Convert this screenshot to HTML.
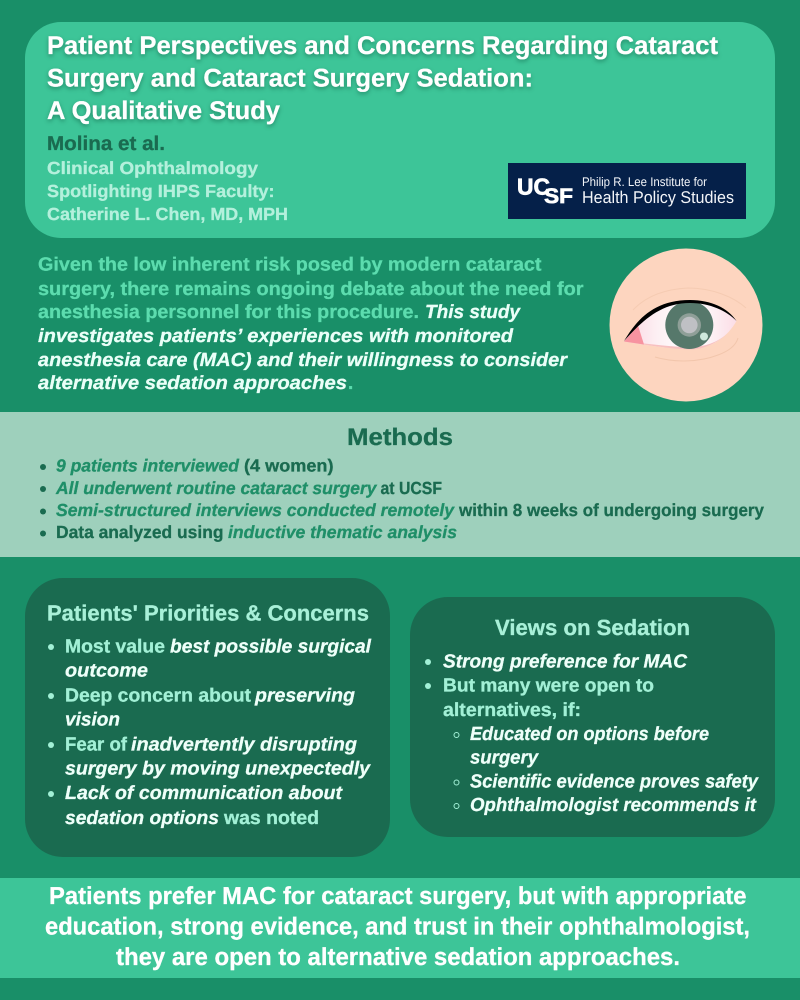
<!DOCTYPE html>
<html><head><meta charset="utf-8">
<style>
html,body{margin:0;padding:0;background:#198f68;width:800px;height:1000px;overflow:hidden}
svg{display:block}
text{font-family:"Liberation Sans",sans-serif;font-weight:700;stroke-width:.3px;stroke:currentColor}
.i{font-style:italic}
.t{font-size:25.5px;fill:#fff;color:#fff;filter:drop-shadow(0 2px 2px rgba(0,60,40,.4))}
.s{font-size:17.5px;fill:#b4f0dc;color:#b4f0dc}
.b{font-size:19px}
.g{fill:#5cdcae;color:#5cdcae}
.w{fill:#eafff8;color:#eafff8}
.m{font-size:17.5px}
.d{fill:#1a6b50;color:#1a6b50}
.e{fill:#1f8f68;color:#1f8f68}
.p{font-size:19px;fill:#a2f0d6;color:#a2f0d6}
.q{font-size:19px;fill:#eefff9;color:#eefff9}
.h{font-size:22px;fill:#a8f0d8;color:#a8f0d8}
.f{font-size:24.5px;fill:#fff;color:#fff}
.l{stroke:none;font-weight:400;fill:#f2f4f8}
.u{fill:#fff;color:#fff;stroke-width:.7px}
</style></head><body>
<svg xmlns="http://www.w3.org/2000/svg" width="800" height="1000" viewBox="0 0 800 1000" text-rendering="geometricPrecision">
<defs>
<linearGradient id="sc" x1="0" y1="0" x2="1" y2="0">
<stop offset="0" stop-color="#fbd6e0"/><stop offset=".3" stop-color="#fdf0f4"/><stop offset=".62" stop-color="#ffffff"/><stop offset="1" stop-color="#fbdde6"/>
</linearGradient>
</defs>
<rect width="800" height="1000" fill="#198f68"/>
<rect x="25" y="22" width="750" height="216" rx="36" fill="#3dc598"/>
<text class="t" x="47" y="54" textLength="671" lengthAdjust="spacingAndGlyphs">Patient Perspectives and Concerns Regarding Cataract</text>
<text class="t" x="47" y="86.500" textLength="486" lengthAdjust="spacingAndGlyphs">Surgery and Cataract Surgery Sedation:</text>
<text class="t" x="47" y="119" textLength="233" lengthAdjust="spacingAndGlyphs">A Qualitative Study</text>
<text class="d" x="47" y="150" font-size="20" textLength="118" lengthAdjust="spacingAndGlyphs">Molina et al.</text>
<text class="s" x="47" y="174" textLength="211" lengthAdjust="spacingAndGlyphs">Clinical Ophthalmology</text>
<text class="s" x="47" y="197" textLength="227.500" lengthAdjust="spacingAndGlyphs">Spotlighting IHPS Faculty:</text>
<text class="s" x="47" y="220" textLength="241" lengthAdjust="spacingAndGlyphs">Catherine L. Chen, MD, MPH</text>

<rect x="508" y="163" width="238" height="56" fill="#052049"/>
<text class="u" x="517" y="194.500" font-size="23" textLength="33" lengthAdjust="spacingAndGlyphs">UC</text>
<text class="u" x="544" y="203" font-size="21" textLength="29" lengthAdjust="spacingAndGlyphs">SF</text>
<text class="l" x="582" y="186" font-size="12.500" textLength="125" lengthAdjust="spacingAndGlyphs">Philip R. Lee Institute for</text>
<text class="l" x="582" y="203" font-size="17" textLength="152" lengthAdjust="spacingAndGlyphs">Health Policy Studies</text>

<text class="b g" x="38" y="270.500" textLength="503.500" lengthAdjust="spacingAndGlyphs">Given the low inherent risk posed by modern cataract</text>
<text class="b g" x="38" y="295" textLength="545.500" lengthAdjust="spacingAndGlyphs">surgery, there remains ongoing debate about the need for</text>
<text class="b g" x="38" y="318" textLength="381" lengthAdjust="spacingAndGlyphs">anesthesia personnel for this procedure.</text>
<text class="b w i" x="425" y="318" textLength="95" lengthAdjust="spacingAndGlyphs">This study</text>
<text class="b w i" x="38" y="342" textLength="475" lengthAdjust="spacingAndGlyphs">investigates patients’ experiences with monitored</text>
<text class="b w i" x="38" y="366" textLength="529" lengthAdjust="spacingAndGlyphs">anesthesia care (MAC) and their willingness to consider</text>
<text class="b w i" x="38" y="389" textLength="309" lengthAdjust="spacingAndGlyphs">alternative sedation approaches</text>
<text class="b g" x="348" y="389">.</text>

<circle cx="686" cy="325" r="76.500" fill="#fdd5bf"/>
<path d="M633 310C648 294 668 289 688 288C712 288 734 297 746 308" fill="none" stroke="#f5cbb2" stroke-width="1"/>
<path d="M655 357C675 363 700 362 718 355C729 351 736 345 738 338" fill="none" stroke="#f2c6ac" stroke-width="1"/>
<path d="M624 341.500C636 322 655 301 690 301C710 301 727 309 736.500 321C728 336 712 349 690 349C670 349 645 345 624 341.500Z" fill="url(#sc)"/>
<path d="M624 341.500C645 345 670 349 690 349.500C705 349.500 718 342 727 334C715 344 702 347 690 347C670 347 645 343 624 341.500Z" fill="#f7c0c0"/>
<path d="M624 341.500L638 325.500L644 344.500Z" fill="#f793a0"/>
<circle cx="689.300" cy="325" r="24" fill="#56786b"/>
<circle cx="689.300" cy="325" r="11.700" fill="#8f9f98"/>
<circle cx="689.300" cy="325" r="8.300" fill="#bfc0c4"/>
<circle cx="704" cy="336.500" r="4" fill="#cfe9dd"/>
<path d="M624 341C636 321 653 300 690 300C711 300 728 308 736.500 321C727 311 710 303 690 303C661 303 643 320 624 341Z" fill="#000"/>

<rect x="0" y="412" width="800" height="145" fill="#9ed0bc"/>
<text x="347" y="445" font-size="24" class="d" textLength="106" lengthAdjust="spacingAndGlyphs">Methods</text>
<circle cx="43" cy="467" r="3" fill="#1a6b50"/><circle cx="43" cy="489" r="3" fill="#1a6b50"/><circle cx="43" cy="511.500" r="3" fill="#1a6b50"/><circle cx="43" cy="533.500" r="3" fill="#1a6b50"/>
<text class="m e i" x="56" y="471.500" textLength="183" lengthAdjust="spacingAndGlyphs">9 patients interviewed</text>
<text class="m d" x="244" y="471.500" textLength="89.500" lengthAdjust="spacingAndGlyphs">(4 women)</text>
<text class="m e i" x="56" y="494" textLength="320.500" lengthAdjust="spacingAndGlyphs">All underwent routine cataract surgery</text>
<text class="m d" x="380.500" y="494" textLength="61.500" lengthAdjust="spacingAndGlyphs">at UCSF</text>
<text class="m e i" x="56" y="516" textLength="398" lengthAdjust="spacingAndGlyphs">Semi-structured interviews conducted remotely</text>
<text class="m d" x="459" y="516" textLength="305" lengthAdjust="spacingAndGlyphs">within 8 weeks of undergoing surgery</text>
<text class="m d" x="56" y="538" textLength="167.500" lengthAdjust="spacingAndGlyphs">Data analyzed using</text>
<text class="m e i" x="228" y="538" textLength="229" lengthAdjust="spacingAndGlyphs">inductive thematic analysis</text>

<rect x="25" y="578" width="365" height="279" rx="38" fill="#1a6b50"/>
<text class="h" x="47" y="620.500" textLength="322" lengthAdjust="spacingAndGlyphs">Patients' Priorities &amp; Concerns</text>
<circle cx="51" cy="647" r="3" fill="#a2f0d6"/><circle cx="51" cy="696" r="3" fill="#a2f0d6"/><circle cx="51" cy="745" r="3" fill="#a2f0d6"/><circle cx="51" cy="794" r="3" fill="#a2f0d6"/>
<text class="p" x="65" y="652.500" textLength="100" lengthAdjust="spacingAndGlyphs">Most value</text>
<text class="q i" x="170" y="652.500" textLength="201" lengthAdjust="spacingAndGlyphs">best possible surgical</text>
<text class="q i" x="65" y="676.500" textLength="83" lengthAdjust="spacingAndGlyphs">outcome</text>
<text class="p" x="65" y="701.500" textLength="186" lengthAdjust="spacingAndGlyphs">Deep concern about</text>
<text class="q i" x="255" y="701.500" textLength="100" lengthAdjust="spacingAndGlyphs">preserving</text>
<text class="q i" x="65" y="725.500" textLength="55" lengthAdjust="spacingAndGlyphs">vision</text>
<text class="p" x="65" y="750.500" textLength="62" lengthAdjust="spacingAndGlyphs">Fear of</text>
<text class="q i" x="131" y="750.500" textLength="226" lengthAdjust="spacingAndGlyphs">inadvertently disrupting</text>
<text class="q i" x="65" y="774.500" textLength="305" lengthAdjust="spacingAndGlyphs">surgery by moving unexpectedly</text>
<text class="q i" x="65" y="799" textLength="277" lengthAdjust="spacingAndGlyphs">Lack of communication about</text>
<text class="q i" x="65" y="824" textLength="154" lengthAdjust="spacingAndGlyphs">sedation options</text>
<text class="p" x="224" y="824" textLength="95" lengthAdjust="spacingAndGlyphs">was noted</text>

<rect x="410" y="597" width="365" height="240" rx="38" fill="#1a6b50"/>
<text class="h" x="495" y="635" textLength="195" lengthAdjust="spacingAndGlyphs">Views on Sedation</text>
<circle cx="428" cy="662" r="3" fill="#a2f0d6"/><circle cx="428" cy="686" r="3" fill="#a2f0d6"/>
<text class="q i" x="443" y="667.500" textLength="244" lengthAdjust="spacingAndGlyphs">Strong preference for MAC</text>
<text class="p" x="443" y="691.500" textLength="211" lengthAdjust="spacingAndGlyphs">But many were open to</text>
<text class="p" x="443" y="716" textLength="138" lengthAdjust="spacingAndGlyphs">alternatives, if:</text>
<g fill="none" stroke="#a2f0d6" stroke-width="1"><circle cx="456.500" cy="735" r="2.500"/><circle cx="456.500" cy="782.500" r="2.500"/><circle cx="456.500" cy="806" r="2.500"/></g>
<text class="q i" x="470" y="740" textLength="239" lengthAdjust="spacingAndGlyphs">Educated on options before</text>
<text class="q i" x="470" y="763.500" textLength="68" lengthAdjust="spacingAndGlyphs">surgery</text>
<text class="q i" x="470" y="787.500" textLength="288" lengthAdjust="spacingAndGlyphs">Scientific evidence proves safety</text>
<text class="q i" x="470" y="811" textLength="286" lengthAdjust="spacingAndGlyphs">Ophthalmologist recommends it</text>

<rect x="0" y="878" width="800" height="100" fill="#3dc598"/>
<text class="f" x="49" y="904" textLength="697.500" lengthAdjust="spacingAndGlyphs">Patients prefer MAC for cataract surgery, but with appropriate</text>
<text class="f" x="45" y="934.500" textLength="705" lengthAdjust="spacingAndGlyphs">education, strong evidence, and trust in their ophthalmologist,</text>
<text class="f" x="116" y="965" textLength="564" lengthAdjust="spacingAndGlyphs">they are open to alternative sedation approaches.</text>
</svg>
</body></html>
